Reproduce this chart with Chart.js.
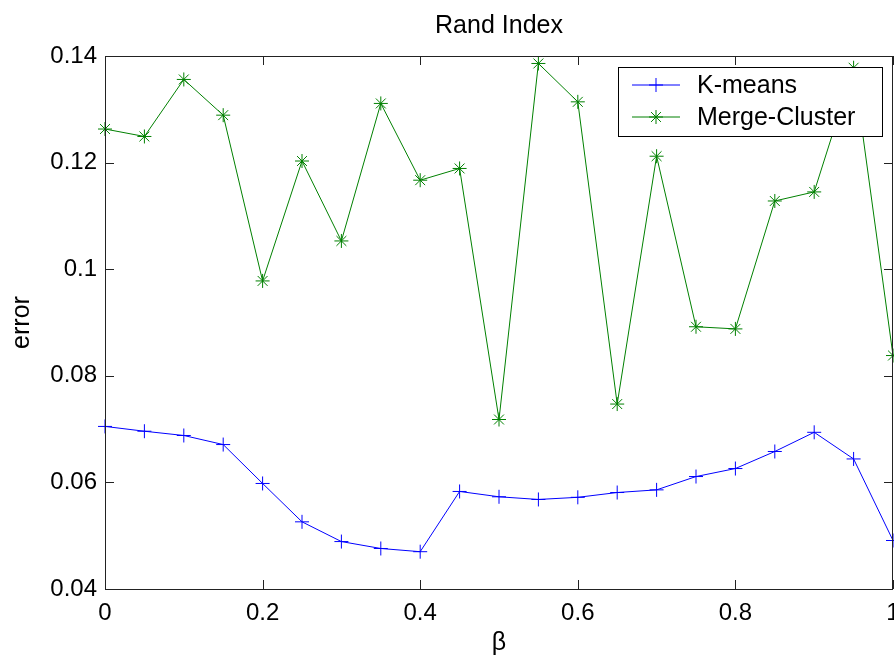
<!DOCTYPE html>
<html>
<head>
<meta charset="utf-8">
<script src="https://cdn.jsdelivr.net/npm/chart.js@4/dist/chart.umd.min.js"></script>
<style>
  html, body { margin: 0; padding: 0; background: #fff; overflow: hidden; }
  #wrap { width: 894px; height: 658px; }
  canvas { display: block; }
</style>
</head>
<body>
<div id="wrap"><canvas id="chart" width="894" height="658"></canvas></div>
<script>
const beta = [0, 0.05, 0.1, 0.15, 0.2, 0.25, 0.3, 0.35, 0.4, 0.45, 0.5, 0.55, 0.6, 0.65, 0.7, 0.75, 0.8, 0.85, 0.9, 0.95, 1];
const kmeans = [0.0705, 0.0696, 0.0688, 0.0671, 0.0598, 0.0526, 0.0489, 0.0476, 0.0470, 0.0583, 0.0573,
  0.0568, 0.0572, 0.0581, 0.0586, 0.0611, 0.0626, 0.0658, 0.0694, 0.0644, 0.0491];
const mergeCluster = [0.1263, 0.1249, 0.1356, 0.1289, 0.0978, 0.1203, 0.1053, 0.1311, 0.1167, 0.1189, 0.0718,
  0.1386, 0.1314, 0.0747, 0.1212, 0.0892, 0.0888, 0.1128, 0.1145, 0.1378, 0.0838];
const xTicks = [0, 0.2, 0.4, 0.6, 0.8, 1];
const yTicks = [0.04, 0.06, 0.08, 0.1, 0.12, 0.14];
const chartTitle = 'Rand Index';

const FONT = 'Liberation Sans, Arial, sans-serif';
const fmt = (v) => String(Number(Number(v).toFixed(2)));
const toPoints = (ys) => beta.map((x, i) => ({ x, y: ys[i] }));

// title over the plot, box round the axes, inward ticks on all four sides, legend
const matlabAxes = {
  id: 'matlabAxes',
  afterDatasetsDraw(chart) {
    const { ctx, chartArea: a, scales: { x, y } } = chart;
    const len = 9;
    ctx.save();

    ctx.fillStyle = '#000';
    ctx.font = `25px ${FONT}`;
    ctx.textAlign = 'center';
    ctx.textBaseline = 'middle';
    ctx.fillText(chartTitle, (a.left + a.right) / 2, 26);

    ctx.strokeStyle = '#222';
    ctx.lineWidth = 1;
    ctx.beginPath();
    ctx.rect(a.left + 0.5, a.top + 0.5, a.right - a.left - 1, a.bottom - a.top);
    xTicks.forEach((v) => {
      const px = Math.round(x.getPixelForValue(v)) + 0.5;
      ctx.moveTo(px, a.bottom); ctx.lineTo(px, a.bottom - len);
      ctx.moveTo(px, a.top); ctx.lineTo(px, a.top + len);
    });
    yTicks.forEach((v) => {
      const py = Math.round(y.getPixelForValue(v)) + 0.5;
      ctx.moveTo(a.left, py); ctx.lineTo(a.left + len, py);
      ctx.moveTo(a.right, py); ctx.lineTo(a.right - len, py);
    });
    ctx.stroke();

    // legend
    const lx = 618, ly = 67, lw = 264, lh = 69;
    ctx.fillStyle = '#fff';
    ctx.fillRect(lx, ly, lw, lh);
    ctx.strokeStyle = '#000';
    ctx.strokeRect(lx + 0.5, ly + 0.5, lw, lh);
    ctx.font = `25px ${FONT}`;
    ctx.textAlign = 'left';
    ctx.textBaseline = 'middle';
    chart.data.datasets.forEach((ds, i) => {
      const rowY = ly + 18 + i * 32;
      ctx.strokeStyle = ds.borderColor;
      ctx.lineWidth = 1;
      ctx.beginPath();
      ctx.moveTo(lx + 14, rowY); ctx.lineTo(lx + 62, rowY);
      ctx.stroke();
      Chart.helpers.drawPoint(ctx, {
        pointStyle: ds.pointStyle, radius: ds.pointRadius, borderWidth: 1, rotation: 0
      }, lx + 38, rowY);
      ctx.fillStyle = '#000';
      ctx.fillText(ds.label, lx + 79, rowY + 1);
    });
    ctx.restore();
  }
};

new Chart(document.getElementById('chart'), {
  type: 'line',
  data: {
    datasets: [{
      label: 'K-means',
      data: toPoints(kmeans),
      borderColor: '#0000ff',
      backgroundColor: '#0000ff',
      borderWidth: 1,
      pointStyle: 'cross',
      pointRadius: 7,
      pointBorderWidth: 1,
      pointBorderColor: '#0000ff',
      tension: 0,
      clip: 12
    }, {
      label: 'Merge-Cluster',
      data: toPoints(mergeCluster),
      borderColor: '#008000',
      backgroundColor: '#008000',
      borderWidth: 1,
      pointStyle: 'star',
      pointRadius: 7,
      pointBorderWidth: 1,
      pointBorderColor: '#008000',
      tension: 0,
      clip: 12
    }]
  },
  options: {
    responsive: false,
    animation: false,
    events: [],
    layout: { autoPadding: false, padding: { left: 0, right: 1, top: 56, bottom: 0 } },
    plugins: {
      legend: { display: false },
      tooltip: { enabled: false },
      title: { display: false }
    },
    scales: {
      x: {
        type: 'linear',
        min: 0,
        max: 1,
        afterFit: (scale) => {
          scale.height = 69;
          scale.paddingLeft = 0;
          scale.paddingRight = 0;
        },
        afterBuildTicks: (scale) => { scale.ticks = xTicks.map((v) => ({ value: v })); },
        grid: { display: false, drawTicks: false },
        border: { display: false },
        ticks: {
          color: '#000',
          padding: 10,
          maxRotation: 0,
          font: { family: FONT, size: 24 },
          callback: fmt
        },
        title: {
          display: true,
          text: 'β',
          color: '#000',
          font: { family: FONT, size: 25, lineHeight: 1.2 },
          padding: { top: 0, bottom: 0 }
        }
      },
      y: {
        min: 0.04,
        max: 0.14,
        afterFit: (scale) => {
          scale.width = 105;
          scale.paddingTop = 0;
          scale.paddingBottom = 0;
        },
        afterBuildTicks: (scale) => { scale.ticks = yTicks.map((v) => ({ value: v })); },
        grid: { display: false, drawTicks: false },
        border: { display: false },
        ticks: {
          color: '#000',
          padding: 8,
          font: { family: FONT, size: 24 },
          callback: fmt
        },
        title: {
          display: true,
          text: 'error',
          color: '#000',
          font: { family: FONT, size: 25, lineHeight: 1.2 },
          padding: { top: 7, bottom: 0 }
        }
      }
    }
  },
  plugins: [matlabAxes]
});
</script>
</body>
</html>
